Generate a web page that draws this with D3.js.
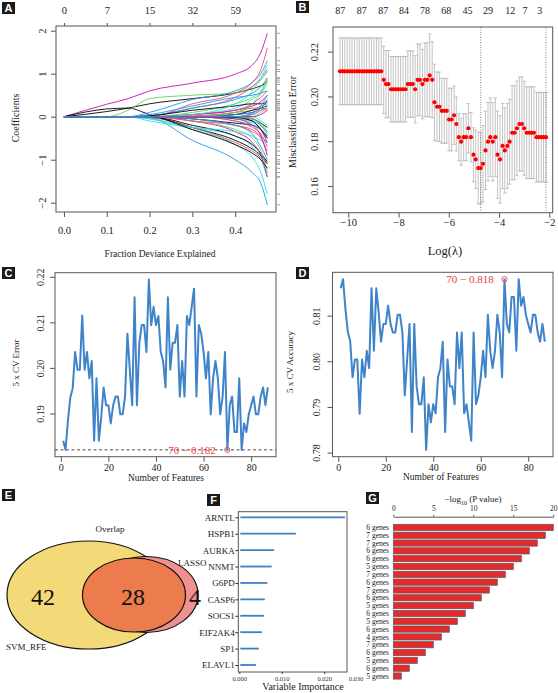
<!DOCTYPE html>
<html><head><meta charset="utf-8">
<script src="https://cdn.jsdelivr.net/npm/d3@7"></script>
<style>
body{margin:0;background:#fff}
svg{display:block}
text{font-family:"Liberation Serif","Times New Roman",serif;fill:#222}
</style>
</head><body>
<svg id="c" width="558" height="693"></svg>
<script>
// ---------------- DATA ----------------
// Panel A: coefficient paths vs fraction deviance explained
const aFrac = [0, 0.1, 0.15, 0.2, 0.3, 0.4, 0.44, 0.46, 0.475];
const aPaths = [
  [0,.29,.42,.6,.78,.99,1.2,1.5,1.94],
  [0,.18,.2,.05,-.25,-.55,-.75,-.9,-1.1],
  [0,.12,.2,.3,.42,.55,.65,.72,.8],
  [0,0,.15,.42,.5,.55,.7,.85,1.05],
  [0,0,0,.1,.4,.6,.8,1.0,1.3],
  [0,0,0,0,.3,.55,.8,1.1,1.6],
  [0,0,0,.02,.2,.45,.7,.9,1.1],
  [0,0,0,-.05,-.25,-.45,-.7,-1.0,-1.4],
  [0,0,0,-.02,-.55,-1.0,-1.3,-1.55,-2.05],
  [0,0,0,-.05,-.3,-.65,-.95,-1.3,-1.8],
  [0,0,0,-.02,-.25,-.6,-.8,-.95,-1.1],
  [0,0,0,0,-.2,-.45,-.65,-.85,-1.05],
  [0,0,0,0,-.1,-.35,-.6,-.9,-1.4],
  [0,0,0,0,-.1,-.3,-.5,-.8,-1.3],
  [0,0,0,0,.1,.3,.45,.6,.9],
  [0,0,0,.02,.2,.4,.55,.7,.9],
  [0,0,0,0,.05,.2,.4,.55,.75],
  [0,0,0,0,.05,.15,.3,.45,.6],
  [0,0,0,.02,.15,.25,.3,.3,.35],
  [0,0,0,0,.05,.15,.25,.35,.5],
  [0,0,0,0,-.05,-.15,-.2,-.3,-.45],
  [0,0,0,0,-.05,-.2,-.3,-.45,-.6],
  [0,0,0,0,0,.1,.15,.25,.3],
  [0,0,0,0,0,-.1,-.2,-.3,-.5],
  [0,0,0,0,0,-.05,-.15,-.3,-.45],
  [0,0,0,0,0,.05,.1,.2,.35],
  [0,0,0,0,0,.05,.15,.2,.25],
  [0,0,0,0,0,-.1,-.25,-.4,-.7],
  [0,0,0,0,0,-.05,-.1,-.2,-.35],
  [0,0,0,0,0,.05,.1,.2,.4],
  [0,0,0,0,0,0,.05,.15,.3],
  [0,0,0,0,0,0,-.1,-.3,-.6],
  [0,0,0,0,0,0,-.05,-.15,-.25],
  [0,0,0,0,0,0,.05,.15,.2],
  [0,0,0,0,0,0,0,.1,.2],
  [0,0,0,0,0,0,-.05,-.2,-.4],
  [0,0,0,0,0,0,0,-.1,-.2],
  [0,0,0,0,0,0,0,.05,.15],
  [0,0,0,0,0,-.02,-.1,-.3,-.5],
  [0,0,0,0,.02,.1,.2,.2,.15],
  [0,0,0,0,0,0,-.05,-.15,-.35],
  [0,0,0,0,0,0,.08,.25,.5],
  [0,0,0,0,-.1,-.2,-.35,-.5,-.8],
  [0,0,0,-.1,-.25,-.35,-.45,-.55,-.6],
  [0,0,0,.05,.25,.45,.5,.55,.6],
  [0,0,0,0,-.3,-.65,-.85,-1.0,-1.2],
  [0,0,0,0,.05,.3,.6,.9,1.2],
  [0,0,0,0,0,.1,.3,.55,.85],
  [0,0,0,0,0,-.05,-.2,-.45,-.9],
  [0,0,0,0,-.05,-.2,-.4,-.7,-1.0]
];
const aColorIdx = [5,0,0,2,3,1,1,4,3,4,1,0,5,2,2,3,4,1,0,5,0,1,2,3,4,5,0,1,2,3,4,5,0,1,2,3,4,5,0,1,2,3,1,4,3,0,4,2,5,3];
const rPalette = ["#000000","#DF536B","#61D04F","#2297E6","#28E2E5","#CD0BBC"];
const aBottomTicks = [0, 0.1, 0.2, 0.3, 0.4];
const aTopLabels = ["0","7","15","32","59"];
const aYTicks = [-2,-1,0,1,2];

// Panel B: cv.glmnet misclassification error
const bLogLambda = [-10.33,-10.23,-10.14,-10.04,-9.94,-9.85,-9.75,-9.65,-9.56,-9.46,-9.37,-9.27,-9.17,-9.08,-8.98,-8.88,-8.79,-8.69,
  -8.59,-8.50,-8.40,-8.30,-8.21,-8.11,-8.01,-7.92,-7.82,-7.72,-7.63,-7.53,-7.43,-7.34,-7.24,-7.15,-7.05,-6.95,-6.86,-6.76,-6.66,
  -6.57,-6.47,-6.37,-6.28,-6.18,-6.08,-5.99,-5.89,-5.79,-5.70,-5.60,-5.51,-5.41,-5.31,-5.22,-5.12,-5.02,-4.93,-4.83,-4.73,
  -4.64,-4.54,-4.44,-4.35,-4.25,-4.15,-4.06,-3.96,-3.86,-3.77,-3.67,-3.58,-3.48,-3.38,-3.29,-3.19,-3.09,-3.00,-2.90,-2.80,
  -2.71,-2.61,-2.51,-2.42,-2.32,-2.23,-2.13];
const bErr = [.2112,.2112,.2112,.2112,.2112,.2112,.2112,.2112,.2112,.2112,.2112,.2112,.2112,.2112,.2112,.2112,.2112,.2112,
  .2074,.2055,.2055,.2032,.2032,.2032,.2032,.2032,.2032,.2032,.2055,.2055,.2055,.2032,.2074,.2074,.2055,.2074,.2074,.2094,.2074,
  .1974,.1954,.1954,.1936,.1936,.1936,.1897,.1897,.1916,.1877,.1818,.1798,.1818,.1818,.1858,.1818,.1740,.1719,.1680,.1680,
  .1699,.1759,.1798,.1818,.1798,.1818,.1740,.1719,.1779,.1759,.1779,.1798,.1838,.1838,.1858,.1877,.1877,.1858,.1838,.1838,
  .1838,.1838,.1818,.1818,.1818,.1818,.1818];
const bSd = [.0149,.0149,.0149,.0149,.0149,.0149,.0149,.0149,.0149,.0149,.0149,.0149,.0149,.0149,.0149,.0149,.0149,.0149,
  .0150,.0150,.0150,.0146,.0146,.0146,.0146,.0146,.0146,.0146,.0148,.0148,.0148,.0150,.0160,.0160,.0155,.0165,.0165,.0185,.0170,
  .0170,.0155,.0155,.0145,.0145,.0145,.0140,.0140,.0130,.0120,.0105,.0105,.0105,.0105,.0110,.0110,.0120,.0130,.0160,.0160,
  .0170,.0175,.0175,.0175,.0175,.0175,.0195,.0195,.0190,.0190,.0190,.0190,.0210,.0210,.0210,.0210,.0210,.0210,.0205,.0205,
  .0205,.0205,.0200,.0200,.0200,.0200,.0200];
const bTopAt = [-10.32,-9.46,-8.61,-7.78,-6.95,-6.10,-5.26,-4.44,-3.55,-2.97,-2.38];
const bTopLabels = ["87","87","87","84","78","68","45","29","12","7","3"];
const bXTicks = [-10,-8,-6,-4,-2];
const bYTicks = [0.16,0.18,0.20,0.22];
const bLambdaMin = -4.73, bLambda1se = -2.13;

// Panels C & D: SVM-RFE 5-fold CV error / accuracy vs number of features (1..87)
const cdFeatures = d3.range(1, 88);
const cError = [.1840,.1820,.1885,.1935,.1955,.2035,.1996,.1996,.2115,.1996,.2035,.1977,.2015,.1840,.1977,.1840,.1893,.1957,
  .1918,.1918,.1878,.1918,.1937,.1937,.1898,.1898,.1937,.2075,.1996,.1918,.2155,.1918,.2055,.2094,.2094,.2035,.2194,.2094,
  .2134,.2094,.2114,.2035,.2015,.1957,.2155,.1996,.2055,.2055,.2094,.1937,.2015,.1937,.2114,.2094,.2134,.2174,.1937,.2094,
  .2075,.2035,.1977,.2035,.1898,.1977,.2015,.1977,.1898,.1937,.2035,.1820,.1918,.1937,.1859,.1859,.1977,.1820,.1878,.1859,
  .1898,.1918,.1937,.1898,.1898,.1937,.1957,.1918,.1957];
const dAccuracy = [.8160,.8180,.8115,.8065,.8045,.7965,.8004,.8004,.7885,.8004,.7965,.8023,.7985,.8160,.8023,.8160,.8107,.8043,
  .8082,.8082,.8122,.8082,.8063,.8063,.8102,.8102,.8063,.7925,.8004,.8082,.7845,.8082,.7945,.7906,.7906,.7965,.7806,.7906,
  .7866,.7906,.7886,.7965,.7985,.8043,.7845,.8004,.7945,.7945,.7906,.8063,.7985,.8063,.7886,.7906,.7866,.7826,.8063,.7906,
  .7925,.7965,.8023,.7965,.8102,.8023,.7985,.8023,.8102,.8063,.7965,.8180,.8082,.8063,.8141,.8141,.8023,.8180,.8122,.8141,
  .8102,.8082,.8063,.8102,.8102,.8063,.8043,.8082,.8043];
const cdXTicks = [0,20,40,60,80];
const cYTicks = [0.19,0.20,0.21,0.22];
const dYTicks = [0.78,0.79,0.80,0.81];
const bestN = 70, bestErr = 0.182, bestAcc = 0.818;

// Panel E: Venn counts
const vennSets = ["SVM_RFE","Overlap","LASSO"];
const vennCounts = [42, 28, 4];

// Panel F: variable importance
const fGenes = ["ARNTL","HSPB1","AURKA","NNMT","G6PD","CASP6","SOCS1","EIF2AK4","SP1","ELAVL1"];
const fImportance = [0.0249,0.0133,0.0082,0.0076,0.0066,0.0060,0.0058,0.0053,0.0046,0.0039];
const fTicks = [0, 0.01, 0.02, 0.03];

// Panel G: -log10(P) per gene set
const gLabels = ["6 genes","7 genes","7 genes","6 genes","6 genes","5 genes","7 genes","6 genes","7 genes","6 genes",
  "5 genes","6 genes","5 genes","6 genes","4 genes","7 genes","6 genes","5 genes","6 genes","5 genes"];
const gValues = [20,19,18,17,16,15,14,13,12,11,10,9,8,7,6,5,4,3,2,1];
const gTicks = [0,5,10,15,20];

// ---------------- DRAW ----------------
const svg = d3.select("#c");
svg.append("rect").attr("width",558).attr("height",693).attr("fill","#fff");

function panelLabel(x, y, t) {
  svg.append("rect").attr("x",x).attr("y",y).attr("width",13).attr("height",12).attr("fill","#1a1a1a");
  svg.append("text").attr("x",x+6.5).attr("y",y+10).attr("text-anchor","middle")
    .style("fill","#fff").style("font-family","'Liberation Sans',Arial,sans-serif")
    .style("font-weight","bold").style("font-size","11px").text(t);
}
function frame(x0,y0,x1,y1){
  svg.append("rect").attr("x",x0).attr("y",y0).attr("width",x1-x0).attr("height",y1-y0)
    .attr("fill","none").attr("stroke","#555").attr("stroke-width",1);
}
const fmtMinus = s => String(s).replace("-","\u2212");
function bottomAxis(x, ticks, y0, labelDy, fs, fmt){
  const g = svg.append("g").attr("transform",`translate(0,${y0})`)
    .call(d3.axisBottom(x).tickValues(ticks).tickSize(5).tickSizeOuter(0).tickFormat(fmt));
  g.select(".domain").remove();
  g.selectAll(".tick line").attr("stroke","#555");
  g.selectAll(".tick text").attr("y",labelDy).attr("dy","0.35em")
    .style("font-family","'Liberation Serif',serif").style("font-size",fs+"px").style("fill","#222");
  return g;
}
function leftAxis(y, ticks, x0, off, fs, fmt){
  const g = svg.append("g").attr("transform",`translate(${x0},0)`)
    .call(d3.axisLeft(y).tickValues(ticks).tickSize(5).tickSizeOuter(0).tickFormat(fmt));
  g.select(".domain").remove();
  g.selectAll(".tick line").attr("stroke","#555");
  g.selectAll(".tick text").attr("transform","rotate(-90)").attr("x",0).attr("y",-off).attr("dy",0)
    .attr("text-anchor","middle")
    .style("font-family","'Liberation Serif',serif").style("font-size",fs+"px").style("fill","#222");
  return g;
}
function vLabel(x, y, t, fs){
  svg.append("text").attr("transform",`translate(${x},${y}) rotate(-90)`).attr("text-anchor","middle")
    .style("font-size",fs+"px").text(t);
}
function hLabel(x, y, t, fs){
  return svg.append("text").attr("x",x).attr("y",y).attr("text-anchor","middle").attr("dy","0.35em")
    .style("font-size",fs+"px").text(t);
}

// ===== Panel A =====
panelLabel(2,2,"A");
const xA = d3.scaleLinear().domain([-0.0186,0.4953]).range([56,276]);
const yA = d3.scaleLinear().domain([-2.216,2.109]).range([212,26]);
const lineA = d3.line().x((d,i)=>xA(aFrac[i])).y(d=>yA(d)).curve(d3.curveMonotoneX);
svg.append("g").selectAll("path").data(aPaths).join("path")
  .attr("d",lineA).attr("fill","none").attr("stroke",(d,i)=>rPalette[aColorIdx[i]]).attr("stroke-width",0.9);
frame(56,26,276,212);
bottomAxis(xA, aBottomTicks, 212, 18, 10.5, d3.format(".1f"));
leftAxis(yA, aYTicks, 56, 10, 10.5, d=>fmtMinus(d));
const gAt = svg.append("g").attr("transform","translate(0,26)")
  .call(d3.axisTop(xA).tickValues(aBottomTicks).tickSize(3).tickSizeOuter(0).tickFormat((d,i)=>aTopLabels[i]));
gAt.select(".domain").remove();
gAt.selectAll(".tick line").attr("stroke","#555");
gAt.selectAll(".tick text").attr("y",-16).attr("dy","0.35em").style("font-family","'Liberation Serif',serif").style("font-size","10.5px").style("fill","#222");
svg.append("g").selectAll("line").data(aPaths).join("line")
  .attr("x1",277).attr("x2",280).attr("y1",d=>yA(d[d.length-1])).attr("y2",d=>yA(d[d.length-1]))
  .attr("stroke","#777").attr("stroke-width",0.7);
vLabel(19,118,"Coefficients",10);
hLabel(160,254,"Fraction Deviance Explained",9.5);

// ===== Panel B =====
panelLabel(296,1,"B");
const xB = d3.scaleLinear().domain([-10.609,-1.865]).range([333,552.7]);
const yB = d3.scaleLinear().domain([0.1481,0.2310]).range([212.7,27]);
const gB = svg.append("g");
bLogLambda.forEach((l,i)=>{
  const x = xB(l), lo = yB(bErr[i]-bSd[i]), hi = yB(bErr[i]+bSd[i]);
  gB.append("line").attr("x1",x).attr("x2",x).attr("y1",lo).attr("y2",hi).attr("stroke","#b4b4b4").attr("stroke-width",0.8);
  gB.append("line").attr("x1",x-1.8).attr("x2",x+1.8).attr("y1",lo).attr("y2",lo).attr("stroke","#b4b4b4").attr("stroke-width",0.8);
  gB.append("line").attr("x1",x-1.8).attr("x2",x+1.8).attr("y1",hi).attr("y2",hi).attr("stroke","#b4b4b4").attr("stroke-width",0.8);
});
[bLambdaMin,bLambda1se].forEach(l=>{
  gB.append("line").attr("x1",xB(l)).attr("x2",xB(l)).attr("y1",27).attr("y2",212.7)
    .attr("stroke","#666").attr("stroke-width",0.8).attr("stroke-dasharray","1,1.5");
});
gB.selectAll("circle").data(bLogLambda).join("circle")
  .attr("cx",d=>xB(d)).attr("cy",(d,i)=>yB(bErr[i])).attr("r",2.1).attr("fill","#f00");
frame(333,27,552.7,212.7);
bottomAxis(xB, bXTicks, 212.7, 10, 10.5, d=>fmtMinus(d));
leftAxis(yB, bYTicks, 333, 15.5, 10.5, d3.format(".2f"));
svg.append("g").selectAll("text").data(bTopAt).join("text")
  .attr("x",d=>xB(d)).attr("y",10).attr("dy","0.35em").attr("text-anchor","middle")
  .style("font-size","10px").text((d,i)=>bTopLabels[i]);
vLabel(296,122,"Misclassification Error",10);
hLabel(445,251,"Log(\u03BB)",12.5);

// ===== Panel C =====
panelLabel(2,267,"C");
const xC = d3.scaleLinear().domain([-2.44,90.44]).range([55,276]);
const yC = d3.scaleLinear().domain([0.1805,0.2209]).range([456.7,272.7]);
svg.append("line").attr("x1",55).attr("x2",276).attr("y1",yC(bestErr)).attr("y2",yC(bestErr))
  .attr("stroke","#222").attr("stroke-width",0.8).attr("stroke-dasharray","3,2.5");
svg.append("text").attr("x",192).attr("y",yC(bestErr)).attr("dy","0.35em").attr("text-anchor","middle")
  .style("font-size","11px").style("fill","#f03c3c").text("70 \u2212 0.182");
svg.append("path").datum(cError)
  .attr("d",d3.line().x((d,i)=>xC(cdFeatures[i])).y(d=>yC(d)))
  .attr("fill","none").attr("stroke","#3F83C9").attr("stroke-width",2).attr("stroke-linejoin","round");
svg.append("circle").attr("cx",xC(bestN)).attr("cy",yC(bestErr)).attr("r",2.6)
  .attr("fill","none").attr("stroke","#f05050").attr("stroke-width",1);
frame(55,272.7,276,456.7);
bottomAxis(xC, cdXTicks, 456.7, 11, 10, d3.format("d"));
leftAxis(yC, cYTicks, 55, 11.5, 10, d3.format(".2f"));
vLabel(19,363,"5 x CV Error",9);
hLabel(166,478,"Number of Features",9.5);

// ===== Panel D =====
panelLabel(296,267,"D");
const xD = d3.scaleLinear().domain([-2.44,90.44]).range([332.5,553]);
const yD = d3.scaleLinear().domain([0.7791,0.8195]).range([456.7,272.3]);
svg.append("path").datum(dAccuracy)
  .attr("d",d3.line().x((d,i)=>xD(cdFeatures[i])).y(d=>yD(d)))
  .attr("fill","none").attr("stroke","#3F83C9").attr("stroke-width",2).attr("stroke-linejoin","round");
svg.append("circle").attr("cx",xD(bestN)).attr("cy",yD(bestAcc)).attr("r",2.6)
  .attr("fill","none").attr("stroke","#f05050").attr("stroke-width",1);
svg.append("text").attr("x",470).attr("y",yD(bestAcc)).attr("dy","0.35em").attr("text-anchor","middle")
  .style("font-size","11px").style("fill","#f03c3c").text("70 \u2212 0.818");
frame(332.5,272.3,553,456.7);
bottomAxis(xD, cdXTicks, 456.7, 11, 10, d3.format("d"));
leftAxis(yD, dYTicks, 332.5, 12.5, 10, d3.format(".2f"));
vLabel(293,362,"5 x CV Accuracy",9);
hLabel(441,477,"Number of Features",9.5);

// ===== Panel E (Venn) =====
panelLabel(2,489,"E");
const gE = svg.append("g");
gE.append("ellipse").attr("cx",88.5).attr("cy",595).attr("rx",81.5).attr("ry",54)
  .attr("fill","#F4D978").attr("stroke","#111").attr("stroke-width",1.2);
gE.append("ellipse").attr("cx",146).attr("cy",594.5).attr("rx",52).attr("ry",38)
  .attr("fill","#F09090").attr("stroke","#111").attr("stroke-width",1.2);
gE.append("ellipse").attr("cx",134).attr("cy",595).attr("rx",51.5).attr("ry",37)
  .attr("fill","#EC7B4E").attr("stroke","#111").attr("stroke-width",1.2);
const vennPos = [[43,597],[133,597],[195,597]];
gE.selectAll("text.n").data(vennCounts).join("text").attr("class","n")
  .attr("x",(d,i)=>vennPos[i][0]).attr("y",(d,i)=>vennPos[i][1]).attr("dy","0.35em").attr("text-anchor","middle")
  .style("font-size","24px").style("fill","#111").text(d=>d);
gE.append("text").attr("x",6).attr("y",650).style("font-size","9px").text(vennSets[0]);
gE.append("text").attr("x",110).attr("y",532).attr("text-anchor","middle").style("font-size","9px").text(vennSets[1]);
gE.append("text").attr("x",178).attr("y",566).style("font-size","9px").text(vennSets[2]);

// ===== Panel F =====
panelLabel(207,494,"F");
const xF = d3.scaleLinear().domain([0,0.01]).range([239.3,281.8]);
const yF = d3.scalePoint().domain(fGenes).range([517.3,665]);
frame(238.3,511.7,347,672);
svg.append("g").selectAll("line").data(fImportance).join("line")
  .attr("x1",xF(0)+1).attr("x2",d=>xF(d)).attr("y1",(d,i)=>yF(fGenes[i])).attr("y2",(d,i)=>yF(fGenes[i]))
  .attr("stroke","#3F7FC4").attr("stroke-width",1.8);
const gFy = svg.append("g").attr("transform","translate(238.3,0)")
  .call(d3.axisLeft(yF).tickSize(3).tickSizeOuter(0));
gFy.select(".domain").remove();
gFy.selectAll(".tick line").attr("stroke","#333");
gFy.selectAll(".tick text").attr("x",-3.5).style("font-family","'Liberation Serif',serif").style("font-size","9px").style("fill","#222");
const gFx = svg.append("g").attr("transform","translate(0,672)")
  .call(d3.axisBottom(xF).tickValues(fTicks).tickSize(2).tickSizeOuter(0).tickFormat(d3.format(".3f")));
gFx.select(".domain").remove();
gFx.selectAll(".tick line").attr("stroke","#333");
gFx.selectAll(".tick text").attr("y",4).style("font-family","'Liberation Serif',serif").style("font-size","6.5px").style("fill","#333");
// the last label sits against panel G (partly hidden in the original); keep it left of G's labels
gFx.selectAll(".tick text").filter(d=>d===0.03).attr("text-anchor","end").attr("x",-4);
gFx.selectAll(".tick line").filter(d=>d===0.03).remove();
hLabel(303,686.5,"Variable Importance",10);

// ===== Panel G =====
panelLabel(366,492,"G");
const xG = d3.scaleLinear().domain([0,20]).range([393.3,553.3]);
const yG = d3.scaleBand().domain(d3.range(gValues.length)).range([522.7,680.7]).padding(0.2);
svg.append("g").selectAll("rect").data(gValues).join("rect")
  .attr("x",xG(0)).attr("y",(d,i)=>yG(i)).attr("width",d=>xG(d)-xG(0)).attr("height",yG.bandwidth())
  .attr("fill","#E52A2D").attr("stroke","#5a5a5a").attr("stroke-width",0.7);
svg.append("g").selectAll("text").data(gLabels).join("text")
  .attr("x",389).attr("y",(d,i)=>yG(i)+yG.bandwidth()/2).attr("dy","0.35em").attr("text-anchor","end")
  .style("font-size","7.5px").text(d=>d);
const gGx = svg.append("g").attr("transform","translate(0,516.7)")
  .call(d3.axisTop(xG).tickValues(gTicks).tickSize(2).tickSizeOuter(0));
gGx.select(".domain").attr("stroke","#555");
gGx.selectAll(".tick line").attr("stroke","#555");
gGx.selectAll(".tick text").attr("y",-6).style("font-family","'Liberation Serif',serif").style("font-size","7.5px").style("fill","#222");
const gt = svg.append("text").attr("x",473).attr("y",502).attr("text-anchor","middle").style("font-size","9px");
gt.append("tspan").text("\u2212log");
gt.append("tspan").attr("dy",2.5).style("font-size","6px").text("10");
gt.append("tspan").attr("dy",-2.5).text(" (P value)");
</script>
</body></html>
